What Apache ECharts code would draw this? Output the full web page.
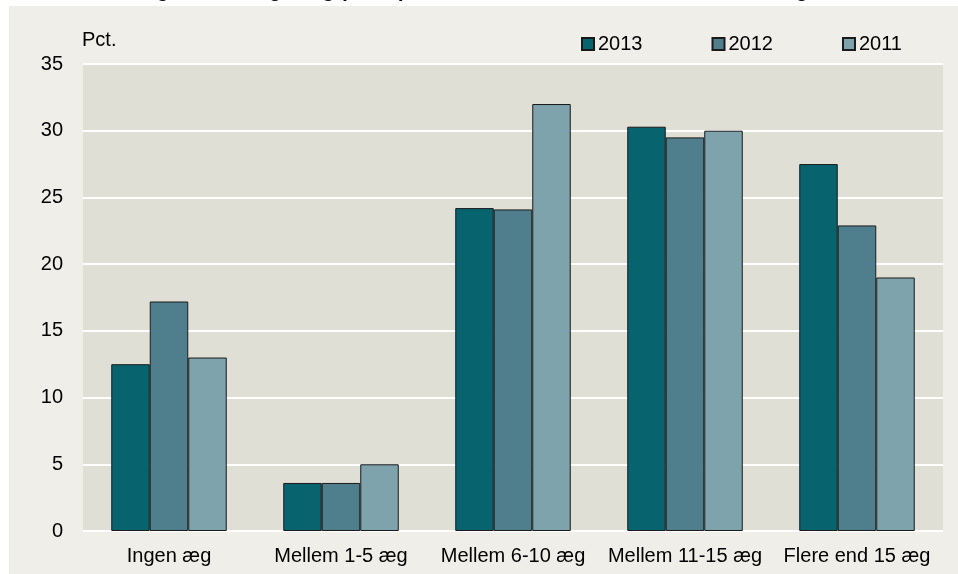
<!DOCTYPE html>
<html>
<head>
<meta charset="utf-8">
<script src="https://cdn.jsdelivr.net/npm/echarts@6/dist/echarts.min.js"></script>
<style>
  html, body { margin: 0; padding: 0; background: #ffffff; }
  #chart { width: 958px; height: 574px; }
</style>
</head>
<body>
<div id="chart"></div>
<script>
const categories = ['Ingen æg', 'Mellem 1-5 æg', 'Mellem 6-10 æg', 'Mellem 11-15 æg', 'Flere end 15 æg'];
const years = ['2013', '2012', '2011'];
const values2013 = [12.5, 3.6, 24.2, 30.3, 27.5];
const values2012 = [17.2, 3.6, 24.1, 29.5, 22.9];
const values2011 = [13.0, 5.0, 32.0, 30.0, 19.0];
const yTicks = [0, 5, 10, 15, 20, 25, 30, 35];
const colors = ['#07636e', '#4f7f8c', '#7ea3ac'];

const chart = echarts.init(document.getElementById('chart'));
const font = 'Liberation Sans, Arial, sans-serif';
const seriesData = [values2013, values2012, values2011];

const option = {
  backgroundColor: '#ffffff',
  animation: false,
  textStyle: { fontFamily: font },
  graphic: [
    {
      type: 'rect',
      z: -1,
      shape: { x: 9, y: 6, width: 949, height: 568 },
      style: { fill: '#efeee8' },
      silent: true
    },
    {
      // title is cut off at the top of the picture, only descenders show
      type: 'text',
      z: 5,
      style: {
        text: 'Fig. 3 Antal lagte æg (andel) fra hønsene i bestanden de seneste 7 dage',
        x: 479, y: -9,
        align: 'center',
        verticalAlign: 'middle',
        font: 'bold 20px Liberation Sans, Arial, sans-serif',
        fill: '#000000'
      }
    }
  ],
  grid: {
    left: 83, right: 15, top: 64, bottom: 43,
    show: true,
    backgroundColor: '#e0dfd5',
    borderWidth: 0
  },
  legend: {
    data: years,
    left: 576, top: 29,
    itemWidth: 12, itemHeight: 12,
    itemGap: 69,
    icon: 'rect',
    textStyle: { fontSize: 20, color: '#000', fontFamily: font, padding: [0, 0, 0, -1] }
  },
  xAxis: {
    type: 'category',
    data: categories,
    axisLine: { show: false },
    axisTick: { show: false },
    axisLabel: { fontSize: 20, color: '#000', margin: 15, interval: 0 }
  },
  yAxis: {
    type: 'value',
    min: yTicks[0],
    max: yTicks[yTicks.length - 1],
    interval: 5,
    name: 'Pct.',
    nameLocation: 'end',
    nameGap: 14,
    nameTextStyle: { fontSize: 20, color: '#000', align: 'left', padding: [0, 0, 0, -1] },
    axisLine: { show: false },
    axisTick: { show: false },
    axisLabel: { fontSize: 20, color: '#000', margin: 20 },
    splitLine: { lineStyle: { color: '#ffffff', width: 2 } }
  },
  series: years.map((y, i) => ({
    name: y,
    type: 'bar',
    data: seriesData[i],
    barWidth: 38.5,
    barGap: '0%',
    itemStyle: { color: colors[i], borderColor: '#1a1a1a', borderWidth: 1 }
  }))
};

chart.setOption(option);
</script>
</body>
</html>
